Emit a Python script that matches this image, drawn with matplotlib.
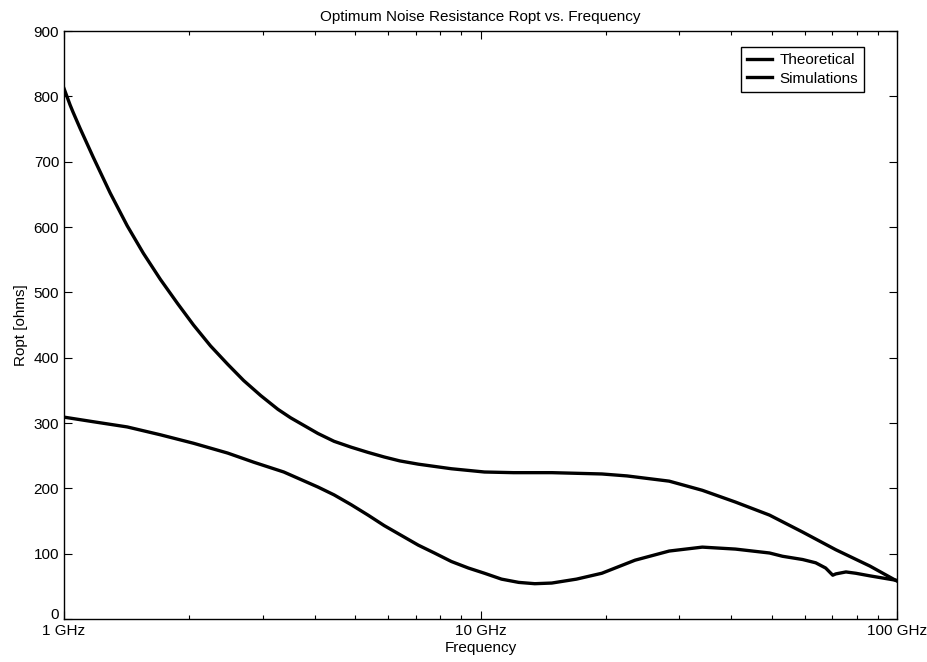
import numpy as np
import matplotlib
matplotlib.use("Agg")
import matplotlib.pyplot as plt
import matplotlib.transforms as mtransforms
from matplotlib.ticker import FixedLocator, LogLocator, NullFormatter

plt.rcParams['font.family'] = ['Liberation Sans', 'DejaVu Sans']

# frequency in GHz, Ropt in ohms
f_theo = [1.0, 1.034, 1.051, 1.093, 1.175, 1.291, 1.418, 1.55, 1.703, 1.873,
          2.046, 2.248, 2.471, 2.7, 2.967, 3.262, 3.5, 4.07, 4.45, 4.89,
          5.37, 5.87, 6.4, 7.09, 8.51, 10.22, 12.0, 14.83, 19.56, 22.48,
          28.38, 34.08, 40.93, 49.43, 59.36, 71.29, 86.09, 100.0]
r_theo = [812, 787, 776, 751, 707, 652, 602, 560, 520, 483,
          450, 418, 390, 365, 342, 321, 308, 284, 272, 263,
          255, 248, 242, 237, 230, 225, 224, 224, 222, 219,
          211, 197, 179, 159, 133, 106, 81, 58]

f_sim = [1.0, 1.175, 1.418, 1.703, 2.046, 2.471, 2.854, 3.37, 4.07, 4.45,
         4.89, 5.37, 5.87, 7.09, 7.75, 8.51, 9.35, 10.22, 11.23, 12.35,
         13.5, 14.83, 17.0, 19.56, 23.5, 28.38, 34.08, 40.93, 49.43, 53.1,
         59.36, 63.8, 67.4, 70.1, 71.3, 75.4, 79.6, 86.1, 100.0]
r_sim = [309, 302, 294, 282, 269, 254, 240, 225, 202, 190,
         175, 159, 143, 113, 101, 88, 78, 70, 61, 56,
         54, 55, 61, 70, 90, 104, 110, 107, 101, 96,
         91, 86, 78, 67, 69, 72, 70, 66, 59]

fig = plt.figure(figsize=(9.28, 6.62), dpi=100)
ax = fig.add_axes([0.069, 0.065, 0.8976, 0.888])

ax.plot(np.array(f_theo) * 1e9, r_theo, color='k', lw=2.4, label='Theoretical')
ax.plot(np.array(f_sim) * 1e9, r_sim, color='k', lw=2.4, label='Simulations')

ax.set_xscale('log')
ax.set_xlim(1e9, 1e11)
ax.set_ylim(0, 900)
ax.xaxis.set_major_locator(FixedLocator([1e9, 1e10, 1e11]))
ax.set_xticklabels(['1 GHz', '10 GHz', '100 GHz'])
ax.xaxis.set_minor_locator(LogLocator(base=10, subs=np.arange(2, 10)))
ax.xaxis.set_minor_formatter(NullFormatter())
ax.set_yticks(np.arange(0, 901, 100))

ax.tick_params(which='both', direction='in', top=True, right=True,
               labelsize=11, width=0.8)
ax.tick_params(which='major', length=6)
ax.tick_params(which='minor', length=3)
for s in ax.spines.values():
    s.set_linewidth(1.0)

# lift the "0" a little so it clears "1 GHz"
lift = mtransforms.ScaledTranslation(0, 4 / 72, fig.dpi_scale_trans)
zero_lbl = ax.get_yticklabels()[0]
zero_lbl.set_transform(zero_lbl.get_transform() + lift)

ax.set_xlabel('Frequency', fontsize=11, labelpad=2)
ax.set_ylabel('Ropt [ohms]', fontsize=11, labelpad=4)
ax.set_title('Optimum Noise Resistance Ropt vs. Frequency', fontsize=11, pad=7)

leg = ax.legend(loc='upper right', bbox_to_anchor=(864 / 928, 1 - 47 / 662),
                bbox_transform=fig.transFigure, borderaxespad=0,
                fontsize=11, handlelength=1.6, fancybox=False, framealpha=1,
                edgecolor='k', handletextpad=0.5, labelspacing=0.3)
leg.get_frame().set_linewidth(1.0)

fig.savefig('out.png', dpi=100)
